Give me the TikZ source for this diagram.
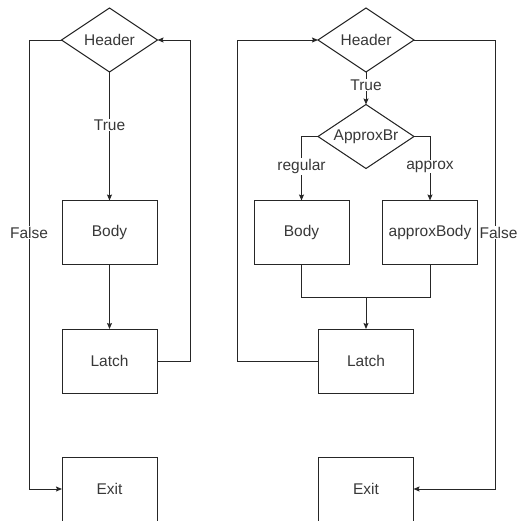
\documentclass[tikz,border=0pt]{standalone}
\usepackage{fontspec}
\setmainfont{Liberation Sans}
\usetikzlibrary{shapes.geometric,arrows.meta}
\begin{document}
\begin{tikzpicture}[x=1pt,y=-1pt,
  txt/.style={text=black!78,font=\fontsize{15.5}{18}\selectfont},
  box/.style={txt,draw=black!85,line width=1pt,minimum width=95pt,minimum height=64pt,inner sep=0pt,outer sep=0pt},
  dia/.style={txt,diamond,draw=black!85,line width=1pt,aspect=1.5,minimum width=96pt,minimum height=64pt,inner sep=0pt,outer sep=0pt},
  lbl/.style={txt,fill=white,inner sep=1pt},
  conn/.style={draw=black!85,line width=1pt},
  arr/.style={conn,-{Stealth[length=6pt,width=5pt,inset=1pt]}}]
\useasboundingbox (0,0) rectangle (521,520);
% left diagram
\node[dia] (h1) at (109.5,40) {Header};
\node[box] (b1) at (109.5,232.5) {Body};
\node[box] (l1) at (109.5,361) {Latch};
\node[box] (e1) at (109.5,489) {Exit};
\coordinate (lf) at (29,40);
\coordinate (rt) at (190,361);
\draw[arr] (h1.south) -- (b1.north);
\draw[arr] (b1.south) -- (l1.north);
\draw[arr] (h1.west) -- (lf) |- (e1.west);
\draw[arr] (l1.east) -- (rt) |- (h1.east);
\node[lbl] (t1) at (109.5,125) {True};
\node[lbl] (f1) at (29,232.5) {False};
% right diagram
\node[dia] (h2) at (366,40) {Header};
\node[dia] (a2) at (366,136.5) {ApproxBr};
\node[box] (b2) at (301.5,232.5) {Body};
\node[box] (x2) at (430,232.5) {approxBody};
\node[box] (l2) at (366,361) {Latch};
\node[box] (e2) at (366,489) {Exit};
\coordinate (lb) at (237,361);
\coordinate (rf) at (495,40);
\coordinate (jn) at (366,297);
\draw[arr] (h2.south) -- (a2.north);
\draw[arr] (a2.west) -| (b2.north);
\draw[arr] (a2.east) -| (x2.north);
\draw[conn] (b2.south) |- (jn);
\draw[conn] (x2.south) |- (jn);
\draw[arr] (jn) -- (l2.north);
\draw[arr] (l2.west) -- (lb) |- (h2.west);
\draw[arr] (h2.east) -- (rf) |- (e2.east);
\node[lbl] (t2) at (366,85) {True};
\node[lbl] (r2) at (301.5,166.5) {regular};
\node[lbl] (p2) at (430,166.5) {approx};
\node[lbl,inner sep=0.5pt] (f2) at (498.5,232.5) {False};
\end{tikzpicture}
\end{document}
